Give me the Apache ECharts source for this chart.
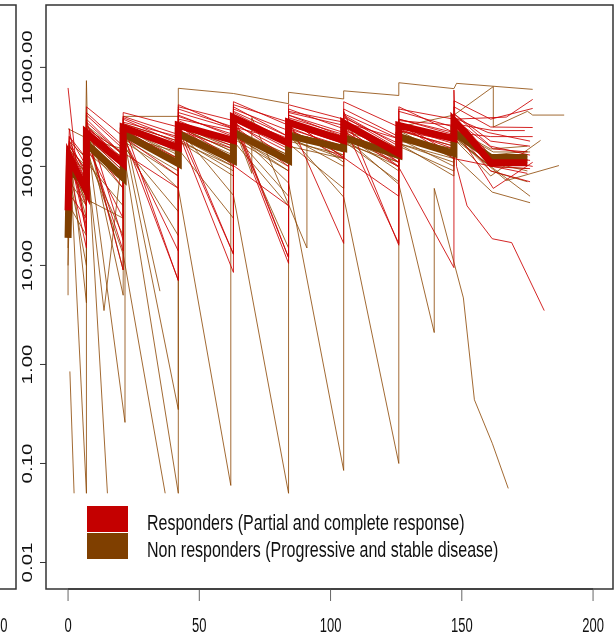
<!DOCTYPE html>
<html>
<head>
<meta charset="utf-8">
<script src="https://cdn.jsdelivr.net/npm/echarts@6/dist/echarts.min.js"></script>
<style>
  html, body { margin: 0; padding: 0; background: #fff; }
  #main { width: 615px; height: 634px; }
</style>
</head>
<body>
<div id="main"></div>
<script>
// axis ticks
const xTicks = [0, 50, 100, 150, 200];
const yTicks = [0.01, 0.1, 1, 10, 100, 1000];
const yTickLabels = ["0.01", "0.10", "1.00", "10.00", "100.00", "1000.00"];
const xRange = [-8.4, 207.6];
const yRange = [0.0054, 4266];

// mean profiles [day, concentration]
const meanResponders = [[0,36],[0.5,125],[7,57],[7,218],[21,107],[21,247],[42,155],[42,260],[63,183],[63,311],[84,171],[84,278],[105,183],[105,275],[126,135],[126,260],[147,191],[147,290],[152,210],[161,109],[175,109]];
const meanNonResponders = [[0,19],[0.5,91],[7,67],[7,170],[21,77],[21,215],[42,107],[42,215],[63,115],[63,220],[84,115],[84,205],[105,152],[105,195],[126,129],[126,200],[147,135],[147,220],[161,123],[175,123]];

// individual patients, responders
const responders = [
  [[0,35],[0.5,180],[7,80],[7,300],[21,130],[21,300],[42,170],[42,330],[63,200],[63,360],[84,200],[84,330],[105,220],[105,320],[126,150],[126,300],[147,210],[147,340],[161,160],[176,130]],
  [[0,30],[0.5,120],[7,50],[7,220],[21,100],[21,260],[42,150],[42,270],[63,170],[63,290],[84,150],[84,260],[105,170],[105,260],[126,120],[126,250],[147,170],[147,270],[161,100],[176,95]],
  [[0,620],[3,110],[7,45],[7,180],[21,70],[21,230],[42,120],[42,420],[63,240],[63,420],[84,280],[84,380],[105,240],[105,340],[126,190],[126,400],[147,220],[147,300],[167,315],[177,475]],
  [[0,40],[0.5,130],[7,22],[7,200],[21,14],[21,240],[42,110],[42,250],[63,160],[63,280],[84,120],[84,270],[105,200],[105,280],[126,110],[126,240],[147,150],[147,250],[162,60],[177,110]],
  [[0,45],[0.5,160],[7,90],[7,350],[21,160],[21,270],[42,7],[42,320],[63,210],[63,380],[84,230],[84,350],[105,260],[105,360],[126,16],[126,290],[147,260],[147,460],[161,300],[177,385]],
  [[0,60],[0.5,110],[7,60],[7,250],[21,120],[21,270],[42,180],[42,240],[63,13],[63,300],[84,12],[84,330],[105,200],[105,310],[126,170],[126,280],[147,130],[147,220],[161,200],[177,200]],
  [[0,25],[0.5,90],[7,15],[7,160],[21,30],[21,200],[42,80],[42,220],[63,8.5],[63,260],[84,100],[84,240],[105,120],[105,230],[126,98],[147,9.5],[147,590],[148,100],[152,40],[161.6,18.6],[169,17],[181.4,3.5]],
  [[0,80],[0.5,200],[7,100],[7,400],[21,200],[21,350],[42,250],[42,400],[63,290],[63,450],[84,260],[84,420],[105,300],[105,450],[126,250],[126,380],[147,300],[147,400],[161,250],[177,247]],
  [[0,50],[0.5,140],[7,25],[7,290],[21,18],[21,220],[42,100],[42,280],[63,13],[63,250],[84,180],[84,300],[105,123],[105,260],[126,16.7],[126,230],[147,180],[147,300],[162,150],[175,140]],
  [[0,30],[0.5,150],[7,70],[7,260],[21,110],[21,310],[42,190],[42,300],[63,230],[63,330],[84,12],[84,280],[105,190],[105,290],[126,140],[126,270],[147,200],[147,310],[160,220],[176,180]],
  [[0,55],[7,30],[7,240],[42,60],[42,260],[84,40],[84,300],[126,50],[126,270],[147,120],[175,85]],
  [[0,40],[0.5,200],[7,120],[7,330],[21,150],[21,280],[42,200],[42,380],[63,250],[63,400],[84,200],[84,360],[105,280],[105,380],[126,200],[126,360],[147,250],[147,340],[161,180],[176,160]],
  [[0,20],[0.5,100],[7,40],[7,200],[21,90],[21,250],[42,140],[42,230],[63,150],[63,270],[84,140],[84,240],[105,160],[105,240],[126,110],[126,230],[147,160],[147,250],[161,120],[177,100]],
  [[0,30],[0.5,170],[7,70],[7,230],[21,9],[21,210],[42,7.1],[42,260],[63,120],[63,280],[84,10.5],[84,250],[105,150],[105,250],[126,100],[126,210],[147,140],[147,240],[161,90],[176,70]],
  [[0,35],[0.5,130],[7,60],[7,280],[21,130],[21,320],[42,210],[42,350],[63,240],[63,350],[84,180],[84,310],[105,210],[105,330],[126,160],[126,300],[147,220],[147,320],[161,130],[176,115]],
  [[0,90],[0.5,240],[7,20],[7,190],[21,60],[21,200],[42,14],[42,290],[63,170],[63,320],[84,190],[84,300],[105,16.7],[105,280],[126,190],[126,260],[147,200],[147,270],[162,230],[174,230]]
];

// individual patients, non responders
const nonResponders = [
  [[0,19],[0.5,90],[7,65],[7,170],[21,80],[21,210],[42,105],[42,210],[63,115],[63,220],[84,115],[84,205],[105,150],[105,195],[126,130],[126,190],[147,135],[147,220],[161,125],[175,125]],
  [[0,240],[21,125],[21,320],[42,320],[42,615],[63,545],[84,430],[84,560],[105,480],[105,580],[126,520],[126,700],[147,610],[148,690],[177,600]],
  [[0,50],[0.5,130],[6.5,90],[7,735],[8,45],[21,30],[21,200],[42,120],[42,230],[63,130],[63,240],[84,110],[84,220],[105,160],[105,210],[126,140],[126,200],[147,150],[147,240],[161,130],[175,142]],
  [[0,5],[0,150],[7,40],[7,160],[21,60],[21,180],[42,80],[42,190],[63,90],[63,200],[84,100],[84,180],[105,130],[105,190],[126,110],[126,170],[147,120],[147,200],[148,120],[161.6,55],[176,43]],
  [[0.7,0.85],[2.3,0.05]],
  [[0,20],[1,90],[7,0.05],[7,200],[21,90],[21,230],[42,100],[42,200],[63,110],[63,210],[84,120],[84,200],[105,140],[105,190],[126,120],[126,180],[147,140],[147,210],[161,120],[175,110]],
  [[0,40],[0.5,120],[7,50],[7,226],[15,0.05]],
  [[0,30],[0.5,100],[7,45],[7,150],[21,13],[37,0.05]],
  [[0,25],[0.5,110],[7,70],[7,190],[21,150],[42,0.05],[42,180],[63,100],[63,210],[84,90],[84,190],[105,120],[105,180],[126,100],[126,170],[147,110],[147,190],[161,100],[175,95]],
  [[0,35],[0.5,90],[7,50],[7,180],[21,80],[21,206],[42,0.35],[42,250],[63,140],[63,230],[84,130],[84,210],[105,49],[126,0.1],[126,230],[147,120],[147,200],[161,100],[176,50]],
  [[0,30],[0.5,120],[7,60],[7,170],[21,70],[21,200],[42,60],[62,0.06],[62,250],[84,68],[105,0.085],[105,250],[126,130],[126,200],[147,130],[147,230],[162,140],[176,140]],
  [[0,45],[0.5,150],[7,80],[7,220],[21.7,0.26],[21.7,240],[42,130],[42,240],[63,51],[84,0.05],[84,230],[105,130],[105,220],[126,120],[126,210],[147,130],[147,220],[161,110],[175,90]],
  [[0,60],[0.5,170],[7,4.2],[7,190],[21,100],[21,250],[42,120],[42,250],[63,140],[63,260],[70,85],[70,311],[91,15],[91,200],[105,110],[105,200],[126,66],[139.5,2.1],[139.5,60],[150.6,4.7],[154.8,0.44],[161.6,0.16],[167.7,0.056]],
  [[0,100],[0.5,180],[7,120],[13.7,3.5],[21,150],[21,260],[35,5.5]],
  [[0,70],[0.5,130],[7,30],[7,250],[21,5],[21,230],[42,150],[42,230],[63,120],[63,240],[84,130],[84,200],[105,150],[105,200],[126,140],[126,190],[147,150],[147,200],[167,72],[187,102]],
  [[0,80],[0.5,160],[7,90],[7,260],[21,130],[21,270],[42,180],[42,260],[63,150],[63,290],[84,180],[84,290],[105,200],[105,280],[126,150],[126,250],[147,330],[162,640],[162,250],[175,360],[177,330],[189,330]],
  [[0,15],[0.5,70],[7,40],[7,140],[21,70],[21,190],[42,90],[42,200],[63,100],[63,190],[84,90],[84,160],[105,120],[105,170],[126,110],[126,160],[147,90],[147,190],[161,80],[180,183]],
  [[0,25],[0.5,80],[7,10],[7,130],[21,20],[21,160],[42,35],[42,180],[63,80],[63,210],[84,50],[84,200],[105,100],[105,210],[126,90],[126,190],[147,100],[147,210],[161,90],[175,70]],
  [[0,150],[7,100],[7,250],[21,9],[21,200],[42,140],[42,260],[63,160],[63,270],[84,15],[84,230],[105,140],[105,230],[126,150],[126,230],[147,160],[147,240],[161,150],[175,160]],
  [[0,10],[0.5,40],[7,20],[7,110],[21,40],[21,170],[42,20],[42,150],[63,30],[63,180],[84,40],[84,170],[105,60],[105,180],[126,70],[126,170],[147,80],[147,190]]
];

const RED = "#C40000";
const BROWN = "#7F3F00";
const THIN_RED = "rgba(205,0,0,0.85)";
const THIN_BROWN = "rgba(139,69,0,0.8)";
const FONT = "'Liberation Sans', Arial, sans-serif";

function thinLine(data, color, name) {
  return {
    type: "line", name: name, data: data, showSymbol: false, symbol: "none",
    lineStyle: { color: color, width: 1 }, silent: true, z: 2
  };
}

const series = [];
nonResponders.forEach((d, i) => series.push(thinLine(d, THIN_BROWN, "nr" + i)));
responders.forEach((d, i) => series.push(thinLine(d, THIN_RED, "r" + i)));
series.push({
  type: "line", name: "meanNR", data: meanNonResponders, symbol: "none",
  lineStyle: { color: BROWN, width: 7, join: "miter" }, silent: true, z: 3
});
series.push({
  type: "line", name: "meanR", data: meanResponders, symbol: "none",
  lineStyle: { color: RED, width: 7, join: "miter" }, silent: true, z: 4
});

const chart = echarts.init(document.getElementById("main"), null, { renderer: "canvas" });
chart.setOption({
  animation: false,
  backgroundColor: "#fff",
  grid: { left: 46, right: 2, top: 5, bottom: 45, show: true, borderColor: "#333", borderWidth: 1.5, backgroundColor: "transparent" },
  xAxis: { type: "value", min: xRange[0], max: xRange[1], show: false },
  yAxis: { type: "log", logBase: 10, min: yRange[0], max: yRange[1], show: false },
  series: series
});

// R-style axes drawn at the scale positions
const px = (x, y) => chart.convertToPixel({ gridIndex: 0 }, [x, y]);
const g = [];
const bottom = px(0, yRange[0])[1];
const left = px(xRange[0], 1)[0];

xTicks.forEach(t => {
  const p = px(t, yRange[0]);
  g.push({ type: "line", shape: { x1: p[0], y1: bottom, x2: p[0], y2: bottom + 12 }, style: { stroke: "#666", lineWidth: 1 } });
  g.push({ type: "text", x: p[0], y: bottom + 37, scaleY: 1.6,
    style: { text: String(t), font: "13px " + FONT, fill: "#111", textAlign: "center", textVerticalAlign: "middle" } });
});
const a0 = px(xTicks[0], yRange[0]), a1 = px(xTicks[xTicks.length - 1], yRange[0]);
g.push({ type: "line", shape: { x1: a0[0], y1: bottom, x2: a1[0], y2: bottom }, style: { stroke: "#222", lineWidth: 1 } });

yTicks.forEach((v, i) => {
  const p = px(xRange[0], v);
  g.push({ type: "line", shape: { x1: left - 6, y1: p[1], x2: left, y2: p[1] }, style: { stroke: "#333", lineWidth: 1 } });
  g.push({ type: "text", x: left - 18, y: p[1], rotation: Math.PI / 2, scaleX: 1.37,
    style: { text: yTickLabels[i], font: "15px " + FONT, fill: "#111", textAlign: "center", textVerticalAlign: "middle" } });
});

// neighbouring panel edge on the left
g.push({ type: "polyline", shape: { points: [[0, 5], [16, 5], [16, bottom], [0, bottom]] }, style: { stroke: "#333", lineWidth: 1.5, fill: null } });
g.push({ type: "text", x: 7.5, y: bottom + 37, scaleY: 1.6,
  style: { text: "200", font: "13px " + FONT, fill: "#111", textAlign: "right", textVerticalAlign: "middle" } });

// legend
const legendItems = [
  { color: RED, label: "Responders (Partial and complete response)" },
  { color: BROWN, label: "Non responders (Progressive and stable disease)" }
];
legendItems.forEach((it, i) => {
  const y0 = 506 + i * 27;
  g.push({ type: "rect", shape: { x: 87, y: y0, width: 41, height: 26 }, style: { fill: it.color } });
  g.push({ type: "text", x: 147, y: y0 + 18, scaleY: 1.39,
    style: { text: it.label, font: "16px " + FONT, fill: "#111", textAlign: "left", textVerticalAlign: "middle" } });
});

chart.setOption({ graphic: g });
</script>
</body>
</html>
